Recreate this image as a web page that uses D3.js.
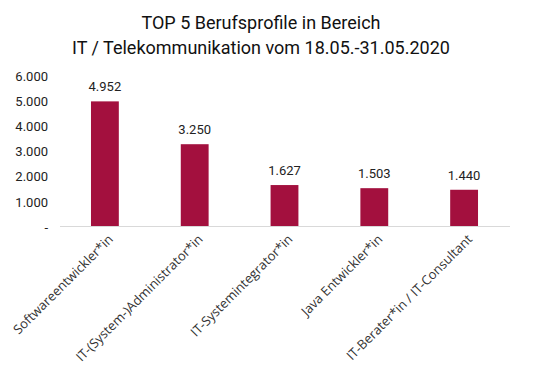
<!DOCTYPE html>
<html>
<head>
<meta charset="utf-8">
<script src="https://cdn.jsdelivr.net/npm/d3@7"></script>
<style>
  body { margin: 0; background: #fff; }
  .title { font-family: Roboto, sans-serif; font-size: 18px; fill: #111; }
  .y-axis text { font-family: Roboto, sans-serif; font-size: 13px; fill: #222; }
  .x-label { font-family: "Open Sans", sans-serif; font-size: 13px; fill: #333; }
  .val { font-family: Roboto, sans-serif; font-size: 13px; fill: #222; }
</style>
</head>
<body>
<div id="chart"></div>
<script>
var categories = ["Softwareentwickler*in", "IT-(System-)Administrator*in", "IT-Systemintegrator*in", "Java Entwickler*in", "IT-Berater*in / IT-Consultant"]
var values = [4952, 3250, 1627, 1503, 1440]
var yTicks = [0, 1000, 2000, 3000, 4000, 5000, 6000]
var titleLines = ["TOP 5 Berufsprofile in Bereich", "IT / Telekommunikation vom 18.05.-31.05.2020"]

width = 560
height = 381

svg = d3.select("#chart").append("svg")
    .attr("width", width)
    .attr("height", height)

// german thousands separator
fmt = d3.formatLocale({decimal: ",", thousands: ".", grouping: [3], currency: ["", "€"]}).format(",")

xScale = d3.scaleBand()
    .domain(categories)
    .range([60, 509])
    .paddingInner(0.69)
    .paddingOuter(0.345)

yScale = d3.scaleLinear()
    .domain([0, 6000])
    .range([226, 75])

svg.selectAll(".title")
    .data(titleLines).enter()
    .append("text")
    .attr("class", "title")
    .attr("x", 261)
    .attr("y", function(d, i) { return 29 + i * 25 })
    .attr("text-anchor", "middle")
    .text(function(d) { return d })

yAxis = d3.axisLeft(yScale)
    .tickValues(yTicks)
    .tickSize(0)
    .tickPadding(0)
    .tickFormat(function(d) { return d == 0 ? "-" : fmt(d) })

yG = svg.append("g")
    .attr("class", "y-axis")
    .attr("transform", "translate(48,0)")
    .call(yAxis)
yG.select(".domain").remove()
yG.selectAll("text").attr("dy", "0.4em")

svg.append("g")
    .selectAll("rect")
    .data(values).enter()
    .append("rect")
    .attr("x", function(d, i) { return xScale(categories[i]) })
    .attr("width", xScale.bandwidth())
    .attr("y", function(d) { return yScale(d) })
    .attr("height", function(d) { return yScale(0) - yScale(d) })
    .attr("fill", "#a3103e")

svg.append("line")
    .attr("x1", 60).attr("x2", 510)
    .attr("y1", yScale(0) + 0.5).attr("y2", yScale(0) + 0.5)
    .attr("stroke", "#d9d9d9")
    .attr("stroke-width", 1)

svg.selectAll(".val")
    .data(values).enter()
    .append("text")
    .attr("class", "val")
    .attr("x", function(d, i) { return xScale(categories[i]) + xScale.bandwidth() / 2 })
    .attr("y", function(d) { return yScale(d) - 10 })
    .attr("text-anchor", "middle")
    .text(function(d) { return fmt(d) })

svg.selectAll(".x-label")
    .data(categories).enter()
    .append("text")
    .attr("class", "x-label")
    .attr("text-anchor", "end")
    .attr("transform", function(d) {
        var cx = xScale(d) + xScale.bandwidth() / 2 + 9
        return "translate(" + cx + ",240) rotate(-45)"
    })
    .text(function(d) { return d })
</script>
</body>
</html>
